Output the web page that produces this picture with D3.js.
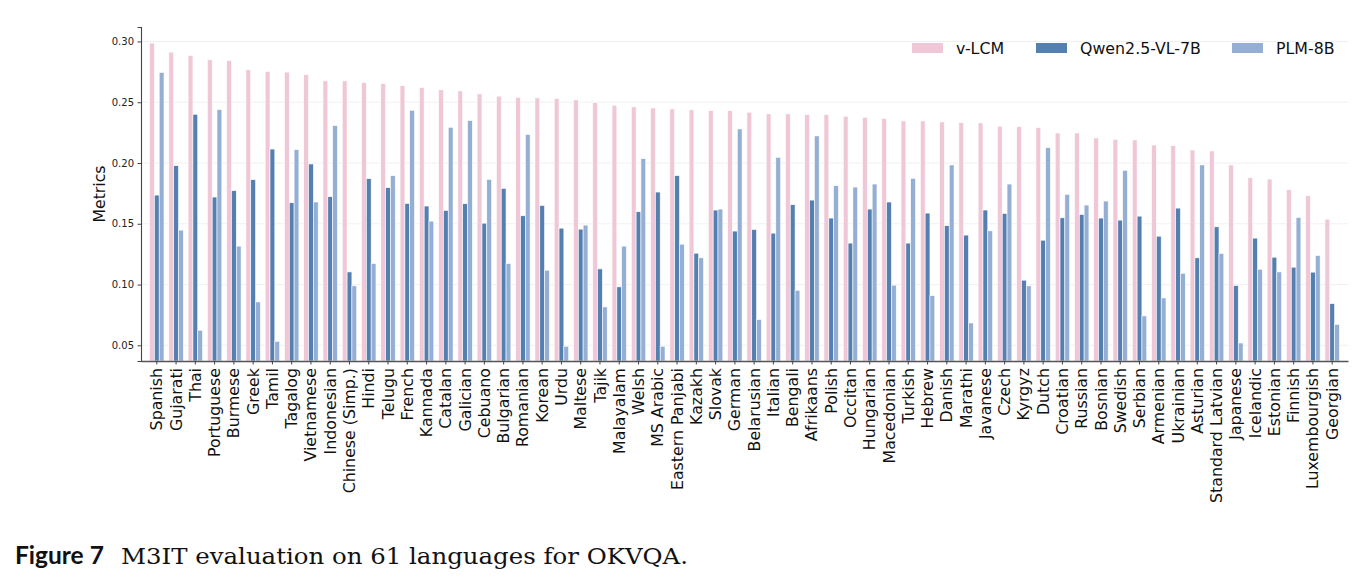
<!DOCTYPE html>
<html>
<head>
<meta charset="utf-8">
<script src="https://cdn.jsdelivr.net/npm/d3@7"></script>
<style>
  body { margin: 0; background: #fff; }
  text { font-family: "DejaVu Sans", sans-serif; }
</style>
</head>
<body>
<div id="chart"></div>
<script>
const languages = ['Spanish','Gujarati','Thai','Portuguese','Burmese','Greek','Tamil','Tagalog','Vietnamese','Indonesian',
  'Chinese (Simp.)','Hindi','Telugu','French','Kannada','Catalan','Galician','Cebuano','Bulgarian','Romanian',
  'Korean','Urdu','Maltese','Tajik','Malayalam','Welsh','MS Arabic','Eastern Panjabi','Kazakh','Slovak',
  'German','Belarusian','Italian','Bengali','Afrikaans','Polish','Occitan','Hungarian','Macedonian','Turkish',
  'Hebrew','Danish','Marathi','Javanese','Czech','Kyrgyz','Dutch','Croatian','Russian','Bosnian',
  'Swedish','Serbian','Armenian','Ukrainian','Asturian','Standard Latvian','Japanese','Icelandic','Estonian','Finnish',
  'Luxembourgish','Georgian'];

const series = ['v-LCM', 'Qwen2.5-VL-7B', 'PLM-8B'];

const vlcm = [0.2987,0.2912,0.2885,0.2849,0.2843,0.2767,0.2753,0.2748,0.2728,0.2676,
  0.2676,0.2662,0.2654,0.2637,0.2621,0.2602,0.2593,0.2569,0.2550,0.2541,
  0.2536,0.2530,0.2519,0.2497,0.2475,0.2462,0.2453,0.2445,0.2437,0.2431,
  0.2431,0.2418,0.2404,0.2404,0.2398,0.2398,0.2385,0.2376,0.2365,0.2346,
  0.2346,0.2338,0.2332,0.2330,0.2302,0.2300,0.2291,0.2247,0.2247,0.2206,
  0.2195,0.2190,0.2148,0.2143,0.2107,0.2099,0.1984,0.1879,0.1868,0.1780,
  0.1731,0.1538];

const qwen = [0.1736,0.1978,0.2401,0.1720,0.1772,0.1863,0.2115,0.1673,0.1992,0.1723,
  0.1104,0.1871,0.1797,0.1668,0.1646,0.1610,0.1665,0.1505,0.1791,0.1566,
  0.1651,0.1464,0.1456,0.1129,0.0981,0.1599,0.1761,0.1896,0.1258,0.1613,
  0.1440,0.1453,0.1423,0.1657,0.1695,0.1547,0.1341,0.1621,0.1679,0.1341,
  0.1588,0.1484,0.1407,0.1613,0.1585,0.1036,0.1365,0.1549,0.1577,0.1547,
  0.1530,0.1563,0.1398,0.1629,0.1220,0.1475,0.0992,0.1382,0.1225,0.1143,
  0.1102,0.0843];

const plm = [0.2745,0.1448,0.0624,0.2440,0.1316,0.0857,0.0533,0.2110,0.1679,0.2308,
  0.0989,0.1173,0.1896,0.2434,0.1522,0.2294,0.2349,0.1865,0.1173,0.2234,
  0.1118,0.0492,0.1489,0.0816,0.1316,0.2036,0.0492,0.1332,0.1220,0.1621,
  0.2280,0.0712,0.2047,0.0953,0.2223,0.1813,0.1802,0.1827,0.0995,0.1874,
  0.0909,0.1984,0.0684,0.1442,0.1827,0.0989,0.2126,0.1742,0.1654,0.1687,
  0.1940,0.0742,0.0890,0.1093,0.1984,0.1255,0.0519,0.1126,0.1104,0.1552,
  0.1239,0.0673];

const yTicks = [0.05, 0.10, 0.15, 0.20, 0.25, 0.30];
const colors = ['#efc7d6', '#5480b1', '#94afd3'];

// table built from the arrays
const data = languages.map((lang, i) => ({ lang, values: [vlcm[i], qwen[i], plm[i]] }));

const width = 1372, height = 584;
const plot = { left: 141, right: 1348, top: 27, bottom: 361 };

const svg = d3.select('#chart').append('svg')
  .attr('width', width)
  .attr('height', height);

// scales
const x0 = d3.scaleBand()
  .domain(languages)
  .range([plot.left, plot.right])
  .paddingInner(0.25)
  .paddingOuter(0.445);

const x1 = d3.scaleBand()
  .domain(series)
  .range([0, x0.bandwidth()]);

const y = d3.scaleLinear()
  .domain([0.0371, 0.3119])
  .range([plot.bottom, plot.top]);

const color = d3.scaleOrdinal().domain(series).range(colors);

// grid
svg.append('g')
  .selectAll('line')
  .data(yTicks)
  .join('line')
  .attr('x1', plot.left)
  .attr('x2', plot.right)
  .attr('y1', d => y(d))
  .attr('y2', d => y(d))
  .attr('stroke', '#ececec')
  .attr('stroke-width', 0.8);

// bars
const groups = svg.append('g')
  .selectAll('g')
  .data(data)
  .join('g')
  .attr('transform', d => `translate(${x0(d.lang)},0)`);

groups.selectAll('rect')
  .data(d => d.values.map((v, j) => ({ key: series[j], v })))
  .join('rect')
  .attr('x', d => x1(d.key))
  .attr('width', x1.bandwidth())
  .attr('y', d => y(d.v))
  .attr('height', d => plot.bottom - y(d.v))
  .attr('fill', d => color(d.key))
  .attr('stroke', '#fff')
  .attr('stroke-width', 0.6);

// axes
const yAxis = svg.append('g')
  .attr('transform', `translate(${plot.left},0)`)
  .call(d3.axisLeft(y).tickValues(yTicks).tickFormat(d3.format('.2f')).tickSize(3.5).tickPadding(3.5));
yAxis.select('.domain').attr('stroke', '#444').attr('stroke-width', 1.1);
yAxis.selectAll('.tick line').attr('stroke', '#444');
yAxis.selectAll('.tick text')
  .style('font-family', '"DejaVu Sans", sans-serif')
  .style('font-size', '10px')
  .attr('fill', '#222');

const xAxis = svg.append('g')
  .attr('transform', `translate(0,${plot.bottom})`)
  .call(d3.axisBottom(x0).tickSize(3.5).tickSizeOuter(0));
xAxis.select('.domain').attr('stroke', '#555').attr('stroke-width', 1.6);
xAxis.selectAll('.tick line').attr('stroke', '#444');
xAxis.selectAll('.tick text')
  .style('font-family', '"DejaVu Sans", sans-serif')
  .style('font-size', '15.8px')
  .attr('fill', '#111')
  .attr('transform', 'rotate(-90)')
  .attr('text-anchor', 'end')
  .attr('x', -7)
  .attr('y', 0)
  .attr('dy', '0.35em');

svg.append('text')
  .attr('transform', `translate(105,${(plot.top + plot.bottom) / 2}) rotate(-90)`)
  .attr('text-anchor', 'middle')
  .style('font-size', '15.7px')
  .attr('fill', '#111')
  .text('Metrics');

// legend
const legendX = [912, 1036, 1232];
const legend = svg.append('g')
  .selectAll('g')
  .data(series)
  .join('g')
  .attr('transform', (d, i) => `translate(${legendX[i]},43)`);

legend.append('rect')
  .attr('width', 31)
  .attr('height', 10)
  .attr('fill', d => color(d));

legend.append('text')
  .attr('x', 44)
  .attr('y', 11)
  .style('font-size', '15.8px')
  .attr('fill', '#111')
  .text(d => d);

// caption
svg.append('text')
  .attr('x', 15)
  .attr('y', 564)
  .style('font-family', 'Lato, sans-serif')
  .style('font-weight', 'bold')
  .style('font-size', '24.5px')
  .attr('fill', '#111')
  .text('Figure 7');

svg.append('text')
  .attr('x', 121)
  .attr('y', 564)
  .style('font-family', '"DejaVu Serif", serif')
  .style('font-size', '22px')
  .attr('fill', '#111')
  .attr('textLength', 567)
  .attr('lengthAdjust', 'spacingAndGlyphs')
  .text('M3IT evaluation on 61 languages for OKVQA.');
</script>
</body>
</html>
